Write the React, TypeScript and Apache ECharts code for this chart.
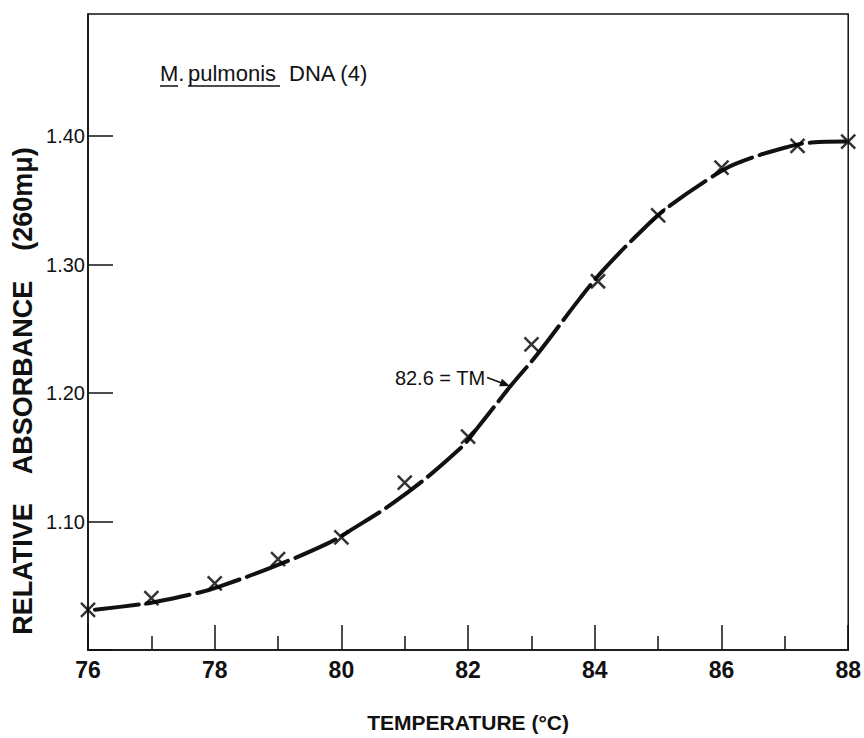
import React, { useEffect, useRef } from "react";
import * as echarts from "echarts";

// Measured points (×)
const markerTemps = [76, 77, 78, 79, 80, 81, 82, 83, 84.05, 85, 86, 87.2, 88];
const markerAbs = [1.0313, 1.0404, 1.0518, 1.0707, 1.0876, 1.1303, 1.166, 1.2378, 1.287, 1.3382, 1.3755, 1.3924, 1.3957];

// Hand-drawn fitted curve
const curveTemps = [76.11, 76.74, 77.04, 77.76, 78.05, 78.91, 79.76, 80.13, 80.97, 81.86, 82.15, 82.67, 83.09, 83.75, 84.14, 84.82, 85.17, 85.82, 86.22, 87.06, 87.42, 87.95];
const curveAbs = [1.0313, 1.035, 1.0371, 1.0448, 1.049, 1.0645, 1.0824, 1.0927, 1.1199, 1.1562, 1.173, 1.2054, 1.23, 1.2727, 1.296, 1.3302, 1.3452, 1.3673, 1.3784, 1.3918, 1.3949, 1.3957];

// Tm annotation: arrow start and tip
const tmLabel = "82.6 = TM";
const arrowStart = [82.3, 1.2121];
const arrowTip = [82.66, 1.2054];

const xTitle = "TEMPERATURE (°C)";
const yTitle = "RELATIVE    ABSORBANCE    (260mμ)";
const plotTitle = ["M.", "pulmonis", "DNA (4)"];

const FONT = "Liberation Sans";
const INK = "#111";

export default function App() {
  const ref = useRef<HTMLDivElement>(null);
  useEffect(() => {
    document.body.style.margin = "0";
    const chart = echarts.init(ref.current!, undefined, { renderer: "svg" });
    chart.setOption({
      animation: false,
      backgroundColor: "#fff",
      grid: {
        left: 88,
        right: 14,
        top: 14,
        bottom: 87,
        show: true,
        borderColor: INK,
        borderWidth: 1.5,
        backgroundColor: "transparent",
      },
      xAxis: {
        type: "value",
        min: 76,
        max: 88,
        interval: 2,
        axisLine: { show: true, lineStyle: { color: INK, width: 1.5 } },
        axisTick: { show: true, inside: true, length: 25, lineStyle: { color: INK, width: 1.5 } },
        minorTick: { show: true, splitNumber: 2, length: 14, lineStyle: { color: INK, width: 1.5 } },
        splitLine: { show: false },
        axisLabel: { color: INK, fontFamily: FONT, fontSize: 23, fontWeight: "bold", margin: 8 },
        name: xTitle,
        nameLocation: "middle",
        nameGap: 62,
        nameTextStyle: { color: INK, fontFamily: FONT, fontSize: 21, fontWeight: "bold" },
      },
      yAxis: {
        type: "value",
        min: 1.0,
        max: 1.495,
        interval: 0.1,
        axisLine: { show: true, lineStyle: { color: INK, width: 1.5 } },
        axisTick: { show: true, inside: true, length: 25, lineStyle: { color: INK, width: 1.5 } },
        splitLine: { show: false },
        axisLabel: {
          color: INK,
          fontFamily: FONT,
          fontSize: 20,
          margin: 3,
          showMaxLabel: false,
          formatter: (v: number) => (v > 1.05 && v < 1.45 ? v.toFixed(2) : ""),
        },
      },
      series: [
        {
          type: "line",
          data: curveTemps.map((t, i) => [t, curveAbs[i]]),
          smooth: 0.4,
          showSymbol: false,
          lineStyle: { color: INK, width: 4, type: [44, 8], cap: "round" },
          z: 2,
        },
        {
          type: "scatter",
          data: markerTemps.map((t, i) => [t, markerAbs[i]]),
          symbol: "path://M0 0L10 10M10 0L0 10",
          symbolSize: 14,
          itemStyle: { color: "none", borderColor: "#000", borderWidth: 2.5 },
          z: 3,
        },
      ],
    });

    const s = chart.convertToPixel({ gridIndex: 0 }, arrowStart) as number[];
    const e = chart.convertToPixel({ gridIndex: 0 }, arrowTip) as number[];
    const ang = Math.atan2(e[1] - s[1], e[0] - s[0]);
    const hl = 10;
    const hw = 4;
    const head = [
      [e[0], e[1]],
      [e[0] - hl * Math.cos(ang) + hw * Math.sin(ang), e[1] - hl * Math.sin(ang) - hw * Math.cos(ang)],
      [e[0] - hl * Math.cos(ang) - hw * Math.sin(ang), e[1] - hl * Math.sin(ang) + hw * Math.cos(ang)],
    ];

    const titleStyle = { fill: INK, fontFamily: FONT, fontSize: 22, textVerticalAlign: "middle" };
    chart.setOption({
      graphic: [
        // annotation
        {
          type: "text",
          x: s[0] - 2,
          y: s[1] + 1,
          style: { text: tmLabel, fill: INK, fontFamily: FONT, fontSize: 20, textAlign: "right", textVerticalAlign: "middle" },
        },
        { type: "line", shape: { x1: s[0], y1: s[1], x2: e[0] - 6 * Math.cos(ang), y2: e[1] - 6 * Math.sin(ang) }, style: { stroke: INK, lineWidth: 1.5 } },
        { type: "polygon", shape: { points: head }, style: { fill: INK } },
        // plot title
        { type: "text", x: 160, y: 73, style: { ...titleStyle, text: plotTitle[0] } },
        { type: "text", x: 188, y: 73, style: { ...titleStyle, text: plotTitle[1] } },
        { type: "text", x: 289, y: 73, style: { ...titleStyle, text: plotTitle[2] } },
        { type: "line", shape: { x1: 160, y1: 86, x2: 178, y2: 86 }, style: { stroke: INK, lineWidth: 1.5 } },
        { type: "line", shape: { x1: 188, y1: 86, x2: 280, y2: 86 }, style: { stroke: INK, lineWidth: 1.5 } },
        // y-axis title
        {
          type: "text",
          x: 23,
          y: 391,
          rotation: Math.PI / 2,
          style: {
            text: yTitle,
            fill: INK,
            fontFamily: FONT,
            fontSize: 27,
            fontWeight: "bold",
            textAlign: "center",
            textVerticalAlign: "middle",
          },
        },
      ],
    });
    return () => chart.dispose();
  }, []);
  return <div ref={ref} style={{ position: "fixed", left: 0, top: 0, width: 864, height: 738 }} />;
}
